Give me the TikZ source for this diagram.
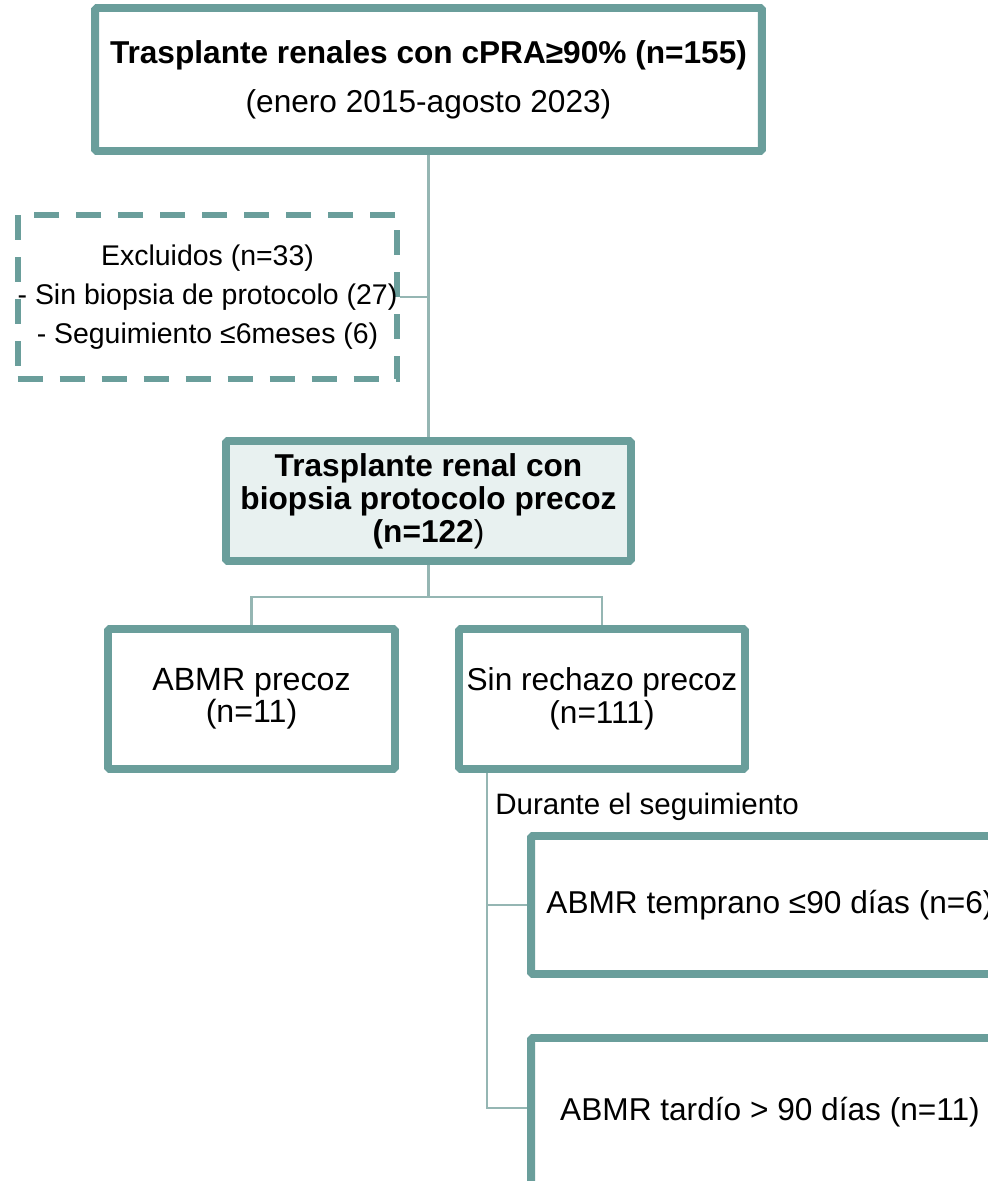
\documentclass[tikz,border=0pt]{standalone}
\usepackage{fontspec}
\setmainfont{Liberation Sans}
\definecolor{tealbox}{HTML}{6A9E9B}
\definecolor{teallink}{HTML}{95B6B3}
\definecolor{palebox}{HTML}{E8F1F0}

\begin{document}
\begin{tikzpicture}[x=0.02cm, y=-0.02cm,
		box/.style={draw=tealbox, line width=4.5pt, rounded corners=1pt, fill=white, align=center, inner sep=0pt},
		dashbox/.style={draw=tealbox, line width=3.4pt, dash pattern=on 0.5cm off 0.34cm, align=center, inner sep=0pt},
		link/.style={draw=teallink, line width=1.3pt}]
		\useasboundingbox (0,0) rectangle (988,1181);
		\clip (0,0) rectangle (988,1181);
		% boxes
		\node[box, minimum width=13.34cm, minimum height=2.86cm, font=\fontsize{18}{28}\selectfont] (top) at (428.5,79.5)
			{\textbf{Trasplante renales con cPRA≥90\% (n=155)}\\(enero 2015-agosto 2023)};
		\node[dashbox, minimum width=7.54cm, minimum height=3.28cm, font=\fontsize{16.2}{22}\selectfont] (excl) at (207.5,297)
			{Excluidos (n=33)\\- Sin biopsia de protocolo (27)\\- Seguimiento ≤6meses (6)};
		\node[box, fill=palebox, minimum width=8.1cm, minimum height=2.4cm, font=\fontsize{18}{18.7}\selectfont] (mid) at (428.5,501)
			{\textbf{Trasplante renal con}\\\textbf{biopsia protocolo precoz}\\\textbf{(n=122})};
		\node[box, minimum width=5.74cm, minimum height=2.8cm, font=\fontsize{18.3}{18.5}\selectfont] (abmr) at (251.5,699)
			{ABMR precoz\\(n=11)};
		\node[box, minimum width=5.72cm, minimum height=2.8cm, font=\fontsize{18}{18.5}\selectfont] (sin) at (602,699)
			{Sin rechazo precoz\\(n=111)};
		\node[anchor=west, inner sep=0pt, font=\fontsize{16.8}{18}\selectfont] (dur) at (495,807) {Durante el seguimiento};
		\node[box, minimum width=9.56cm, minimum height=2.76cm, font=\fontsize{18}{20}\selectfont] (early) at (770,905)
			{ABMR temprano ≤90 días (n=6)};
		\node[box, minimum width=9.56cm, minimum height=2.96cm, font=\fontsize{18}{20}\selectfont] (late) at (770,1112)
			{ABMR tardío > 90 días (n=11)};
		% connectors
		\draw[link] (top) -- (mid);
		\draw[link] (excl.east) -- (excl.east -| top.south);
		\coordinate (split) at (428.5,597);
		\draw[link] (mid.south) -- (split);
		\draw[link] (abmr.north) |- (split) -| (sin.north);
		\coordinate (trunk) at ([xshift=0.64cm]sin.south west);
		\draw[link] (trunk) |- ([yshift=0.08cm]late.west);
		\draw[link] (trunk |- early.west) -- (early.west);
	\end{tikzpicture}
\end{document}
